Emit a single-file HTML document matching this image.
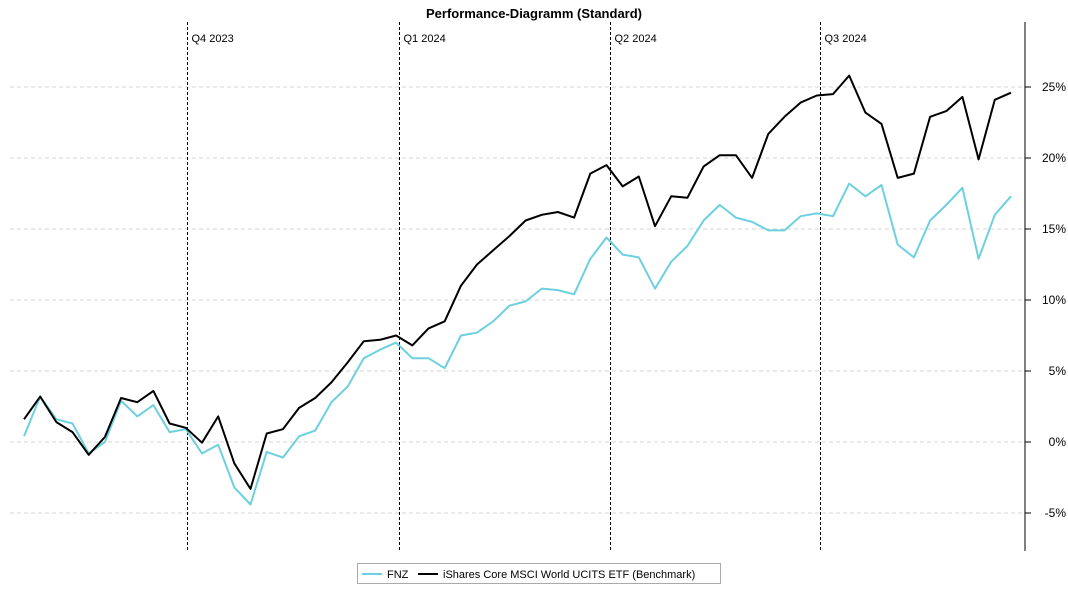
<!DOCTYPE html>
<html><head><meta charset="utf-8"><style>
body{margin:0;background:#fff;}
svg{display:block;font-family:"Liberation Sans",sans-serif;}
</style></head><body>
<svg id="chart" width="1068" height="591">
<text x="534" y="18" text-anchor="middle" font-size="13" font-weight="bold">Performance-Diagramm (Standard)</text>
<g id="grid"></g><g id="quarters"></g><g id="axis"></g><g id="series"></g>
<g>
<rect x="357.5" y="563.5" width="363" height="20" fill="#fff" stroke="#aaa"/>
<g><line x1="362" y1="574" x2="382" y2="574" stroke="#6dd0de" stroke-width="2"/><text x="387" y="578" font-size="11">FNZ</text></g>
<g><line x1="418" y1="574" x2="438" y2="574" stroke="#000" stroke-width="2"/><text x="443" y="578" font-size="11">iShares Core MSCI World UCITS ETF (Benchmark)</text></g>
</g>
</svg>
<script>
const fnz=[0.4,3.2,1.6,1.3,-0.8,0.0,2.9,1.8,2.6,0.7,0.9,-0.8,-0.2,-3.2,-4.4,-0.7,-1.1,0.4,0.8,2.8,3.9,5.9,6.5,7.0,5.9,5.9,5.2,7.5,7.7,8.5,9.6,9.9,10.8,10.7,10.4,12.9,14.4,13.2,13.0,10.8,12.7,13.8,15.6,16.7,15.8,15.5,14.9,14.9,15.9,16.1,15.9,18.2,17.3,18.1,13.9,13.0,15.6,16.7,17.9,12.9,16.0,17.3];
const bench=[1.6,3.2,1.4,0.7,-0.9,0.35,3.1,2.8,3.6,1.3,1.0,-0.05,1.8,-1.5,-3.3,0.6,0.9,2.4,3.1,4.2,5.6,7.1,7.2,7.5,6.8,8.0,8.5,11.0,12.5,13.5,14.5,15.6,16.0,16.2,15.8,18.9,19.5,18.0,18.7,15.2,17.3,17.2,19.4,20.2,20.2,18.6,21.7,22.9,23.9,24.4,24.5,25.8,23.2,22.4,18.6,18.9,22.9,23.3,24.3,19.9,24.1,24.6];
const yTicks=[-5,0,5,10,15,20,25];
const quarterLabels=["Q4 2023","Q1 2024","Q2 2024","Q3 2024"];
const quarterIdx=[10.1,23.2,36.2,49.2];
const NS="http://www.w3.org/2000/svg";
const X=i=>24+i*16.18;
const Y=v=>442-v*14.2;
function mk(tag,attrs,parent){const e=document.createElementNS(NS,tag);for(const k in attrs)e.setAttribute(k,attrs[k]);parent.appendChild(e);return e;}
const grid=document.getElementById('grid'),axis=document.getElementById('axis'),q=document.getElementById('quarters'),s=document.getElementById('series');
yTicks.forEach(t=>{
  const g=mk('line',{x1:10,x2:1025,y1:Y(t),y2:Y(t),stroke:'#d4d4d4','stroke-dasharray':'4,3'},grid);
  
  
  mk('line',{x1:1025,x2:1031,y1:Y(t),y2:Y(t),stroke:'#000'},axis);
  const tx=mk('text',{x:1066,y:Y(t)+4,'text-anchor':'end','font-size':'12'},axis);
  tx.textContent=t+'%';
  
  
});
const ax=mk('line',{x1:1025,x2:1025,y1:22,y2:551,stroke:'#000'},axis);


quarterIdx.forEach((qi,k)=>{
  const x=Math.round(X(qi))+0.5;
  const l=mk('line',{x1:x,x2:x,y1:22,y2:551,stroke:'#000','stroke-dasharray':'3,2'},q);
  
  
  const t=mk('text',{x:x+4,y:42,'font-size':'11'},q);
  t.textContent=quarterLabels[k];
  
  
});
function line(data,color,name){
  const p=mk('polyline',{points:data.map((v,i)=>X(i).toFixed(1)+','+Y(v).toFixed(1)).join(' '),fill:'none',stroke:color,'stroke-width':2,'stroke-linejoin':'round'},s);
  
  
}
line(fnz,'#6dd0de','fnz-line');
line(bench,'#000','benchmark-line');
</script>
</body></html>
